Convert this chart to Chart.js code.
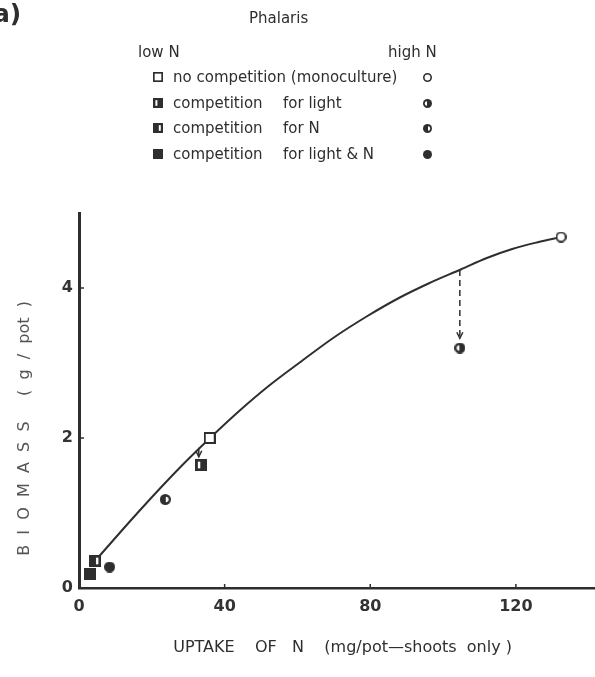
<!DOCTYPE html>
<html>
<head>
<meta charset="utf-8">
<script src="https://cdn.jsdelivr.net/npm/chart.js@4/dist/chart.umd.min.js"></script>
<style>
html, body { margin: 0; padding: 0; background: #fff; }
#wrap { position: relative; width: 595px; height: 677px; overflow: hidden; font-family: 'DejaVu Sans', sans-serif; color: #2e2e2e; }
#plot { position: absolute; left: 0; top: 0; }
.t { position: absolute; font-size: 15px; line-height: 18px; white-space: pre; }
.sym { position: absolute; }
</style>
</head>
<body>
<div id="wrap">
  <canvas id="plot" width="601" height="677"></canvas>
  <div class="t" style="left:-7px;top:-2px;font-size:25px;line-height:32px;font-weight:bold">a)</div>
  <div class="t" style="left:249px;top:9px">Phalaris</div>
  <div class="t" style="left:138px;top:43px">low N</div>
  <div class="t" style="left:388px;top:43px">high N</div>
  <div id="legend"></div>
</div>
<script>
// treatments, one low-N point (square) and one high-N point (circle) each
const treatments = ['no competition (monoculture)', 'competition for light', 'competition for N', 'competition for light & N'];
const treatmentKinds = ['open', 'light', 'nitrogen', 'both'];
const lowNUptake = [35.9, 33.5, 4.4, 3.0];
const lowNBiomass = [2.0, 1.64, 0.36, 0.19];
const highNUptake = [132.4, 104.6, 23.7, 8.4];
const highNBiomass = [4.68, 3.2, 1.18, 0.28];

// fitted response curve for the monocultures
const curveUptake = [4.4, 12, 20, 28, 36, 44, 52, 61, 70, 79, 88, 96, 105, 112, 119, 126, 132.4];
const curveBiomass = [0.36, 0.78, 1.21, 1.62, 2.0, 2.36, 2.69, 3.02, 3.34, 3.62, 3.87, 4.06, 4.25, 4.40, 4.52, 4.61, 4.68];

// arrows from the curve down to the competing plants
const arrowUptake = [104.6, 32.9];
const arrowFrom = [4.24, 1.87];
const arrowTo = [3.33, 1.75];
const arrowDashed = [true, false];

const xTicks = [0, 40, 80, 120];
const yTicks = [0, 2, 4];

const INK = '#2e2e2e';

function makeSymbol(shape, kind, size) {
    const c = document.createElement('canvas');
    c.width = size;
    c.height = size;
    const g = c.getContext('2d');
    const s = size;
    const lw = Math.max(1.6, size / 6);
    if (shape === 'square') {
        if (kind === 'open') {
            g.fillStyle = '#fff';
            g.fillRect(0, 0, s, s);
            g.strokeStyle = INK;
            g.lineWidth = lw;
            g.strokeRect(lw / 2, lw / 2, s - lw, s - lw);
        } else {
            g.fillStyle = INK;
            g.fillRect(0, 0, s, s);
            g.fillStyle = '#fff';
            if (kind === 'light') g.fillRect(s * 0.24, s * 0.22, s * 0.2, s * 0.56);
            if (kind === 'nitrogen') g.fillRect(s * 0.58, s * 0.22, s * 0.2, s * 0.56);
        }
    } else {
        const r = s / 2;
        g.beginPath();
        if (kind === 'open') {
            g.arc(r, r, r - lw / 2, 0, Math.PI * 2);
            g.fillStyle = '#fff';
            g.fill();
            g.strokeStyle = INK;
            g.lineWidth = lw;
            g.stroke();
        } else {
            g.arc(r, r, r, 0, Math.PI * 2);
            g.fillStyle = INK;
            g.fill();
            g.fillStyle = '#fff';
            if (kind === 'light') {
                g.beginPath();
                g.arc(r - 0.5, r, r * 0.5, Math.PI / 2, Math.PI * 1.5);
                g.fill();
            }
            if (kind === 'nitrogen') {
                g.beginPath();
                g.arc(r + 0.5, r, r * 0.5, -Math.PI / 2, Math.PI / 2);
                g.fill();
            }
        }
    }
    return c;
}

// legend block above the plot
const legend = document.getElementById('legend');
const rowTops = [68, 94, 119, 145];
treatments.forEach((name, i) => {
    const sq = makeSymbol('square', treatmentKinds[i], 10);
    sq.className = 'sym';
    sq.style.left = '153px';
    sq.style.top = (rowTops[i] + 4) + 'px';
    legend.appendChild(sq);

    const ci = makeSymbol('circle', treatmentKinds[i], 9);
    ci.className = 'sym';
    ci.style.left = '423px';
    ci.style.top = (rowTops[i] + 5) + 'px';
    legend.appendChild(ci);

    const parts = name.startsWith('competition for') ? ['competition', name.slice(12)] : [name];
    parts.forEach((p, j) => {
        const d = document.createElement('div');
        d.className = 't';
        d.textContent = p;
        d.style.left = (j === 0 ? 173 : 283) + 'px';
        d.style.top = rowTops[i] + 'px';
        legend.appendChild(d);
    });
});

const extras = {
    id: 'extras',
    afterDatasetsDraw(chart) {
        const { ctx, scales: { x, y } } = chart;
        ctx.save();
        ctx.strokeStyle = INK;
        ctx.lineWidth = 1.5;
        // small inward tick marks
        xTicks.slice(1).forEach(v => {
            const px = x.getPixelForValue(v);
            ctx.beginPath();
            ctx.moveTo(px, y.getPixelForValue(0));
            ctx.lineTo(px, y.getPixelForValue(0) - 4);
            ctx.stroke();
        });
        yTicks.slice(1).forEach(v => {
            const py = y.getPixelForValue(v);
            ctx.beginPath();
            ctx.moveTo(x.getPixelForValue(0), py);
            ctx.lineTo(x.getPixelForValue(0) + 5, py);
            ctx.stroke();
        });
        arrowUptake.forEach((u, i) => {
            const px = x.getPixelForValue(u);
            const y0 = y.getPixelForValue(arrowFrom[i]);
            const y1 = y.getPixelForValue(arrowTo[i]);
            ctx.setLineDash(arrowDashed[i] ? [6, 4] : []);
            ctx.beginPath();
            ctx.moveTo(px, y0);
            ctx.lineTo(px, y1);
            ctx.stroke();
            ctx.setLineDash([]);
            ctx.beginPath();
            ctx.moveTo(px - 3, y1 - 6);
            ctx.lineTo(px, y1);
            ctx.lineTo(px + 3, y1 - 6);
            ctx.stroke();
        });
        ctx.restore();
    }
};

Chart.defaults.font.family = "'DejaVu Sans', sans-serif";
Chart.defaults.color = '#333';

const datasets = [{
    type: 'line',
    data: curveUptake.map((u, i) => ({ x: u, y: curveBiomass[i] })),
    borderColor: INK,
    borderWidth: 2,
    pointRadius: 0,
    cubicInterpolationMode: 'monotone',
    fill: false,
    order: 2
}];
treatments.forEach((name, i) => {
    datasets.push({
        label: name,
        data: [{ x: lowNUptake[i], y: lowNBiomass[i] }, { x: highNUptake[i], y: highNBiomass[i] }],
        pointStyle: [makeSymbol('square', treatmentKinds[i], 12), makeSymbol('circle', treatmentKinds[i], 11)],
        order: 1
    });
});

const NB = '\u00a0';
new Chart(document.getElementById('plot'), {
    type: 'scatter',
    data: { datasets },
    options: {
        responsive: false,
        animation: false,
        clip: false,
        layout: { padding: { top: 213, right: 0, left: 0, bottom: 0 } },
        plugins: { legend: { display: false }, tooltip: { enabled: false } },
        scales: {
            x: {
                type: 'linear',
                min: 0,
                max: 142,
                afterBuildTicks: s => { s.ticks = xTicks.map(v => ({ value: v })); },
                afterFit: s => { s.height = 89; },
                grid: { display: false, drawTicks: false },
                border: { display: true, color: INK, width: 2.5 },
                ticks: { font: { size: 16, weight: 'bold' }, color: '#333', padding: 9, maxRotation: 0 },
                title: {
                    display: true,
                    text: NB.repeat(2) + 'UPTAKE' + NB.repeat(4) + 'OF' + NB.repeat(3) + 'N' + NB.repeat(4) + '(mg/pot\u2014shoots' + NB.repeat(2) + 'only )',
                    font: { size: 16 },
                    color: '#2e2e2e',
                    padding: { top: 0, bottom: 20 }
                }
            },
            y: {
                type: 'linear',
                min: 0,
                max: 5,
                afterBuildTicks: s => { s.ticks = yTicks.map(v => ({ value: v })); },
                afterFit: s => { s.width = 79; },
                grid: { display: false, drawTicks: false },
                border: { display: true, color: INK, width: 3 },
                ticks: { font: { size: 16, weight: 'bold' }, color: '#333', padding: 6 },
                title: {
                    display: true,
                    text: 'B  I  O  M  A  S  S' + NB.repeat(5) + '(  g  /  pot  )' + NB.repeat(11),
                    font: { size: 16 },
                    color: '#555',
                    padding: { top: 15, bottom: 0 }
                }
            }
        }
    },
    plugins: [extras]
});
</script>
</body>
</html>
